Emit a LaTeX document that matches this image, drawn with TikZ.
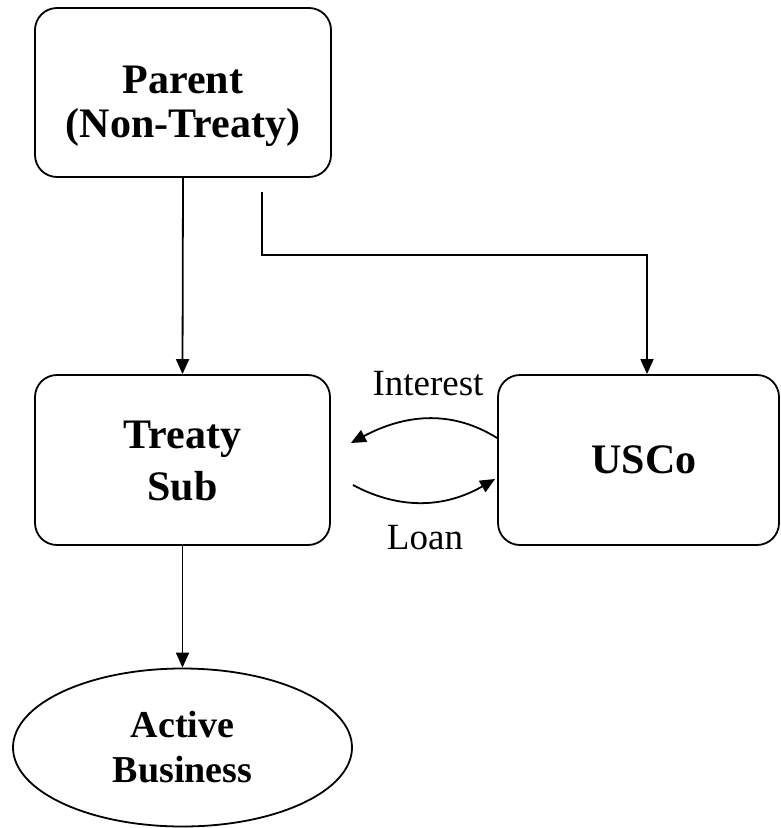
\documentclass[tikz,border=0pt]{standalone}
\usepackage{fontspec}
\setmainfont{Liberation Serif}
\usetikzlibrary{arrows.meta,shapes.geometric,calc}

\tikzset{
  entity/.style={draw, line width=1.8pt, rounded corners=22pt, inner sep=0pt},
  boxtext/.style={align=center, inner sep=0pt,
    font=\fontsize{42}{52}\selectfont\bfseries},
  business/.style={draw, ellipse, line width=1.8pt, align=center,
    font=\fontsize{38}{45}\selectfont\bfseries, inner sep=0pt},
  flow/.style={line width=1.8pt, -{Triangle[length=15pt,width=13pt]}},
  flowlabel/.style={font=\fontsize{37}{44}\selectfont, inner sep=0pt}
}

\begin{document}
\begin{tikzpicture}[x=1pt,y=-1pt]
  \useasboundingbox (0,0) rectangle (781,828);

  % entities
  \node[entity, minimum width=296pt, minimum height=169pt] (parent) at (183,92.5) {};
  \node[boxtext] (parentname) at (183,106) {Parent\\[-8pt](Non-Treaty)};
  \node[entity, minimum width=295pt, minimum height=170pt] (treaty) at (182.5,460) {};
  \node[boxtext] (treatyname) at (182.5,461) {Treaty\\Sub};
  \node[entity, minimum width=281pt, minimum height=170pt] (usco) at (638.5,460) {};
  \node[boxtext] (usconame) at (644,460) {USCo};
  \node[business, minimum width=339pt, minimum height=158pt] (active) at (182.5,747.5)
    {Active\\Business};

  % ownership lines
  \draw[flow] (parent.south) -- (treaty.north);
  \coordinate (split) at (262,192);
  \draw[flow] (split) -- ++(0,63) -| ([xshift=8.5pt]usco.north);
  \draw[flow] (treaty.south) -- (active.north);

  % interest and loan flows
  \draw[flow] ([yshift=22pt]usco.west) to[out=148,in=28] ([xshift=20pt,yshift=17pt]treaty.east);
  \draw[flow] ([xshift=22pt,yshift=-25pt]treaty.east) to[out=-28,in=-150] ([xshift=-2pt,yshift=-19pt]usco.west);

  \node[flowlabel] (interest) at (428,384) {Interest};
  \node[flowlabel] (loan) at (425,538) {Loan};
\end{tikzpicture}
\end{document}
